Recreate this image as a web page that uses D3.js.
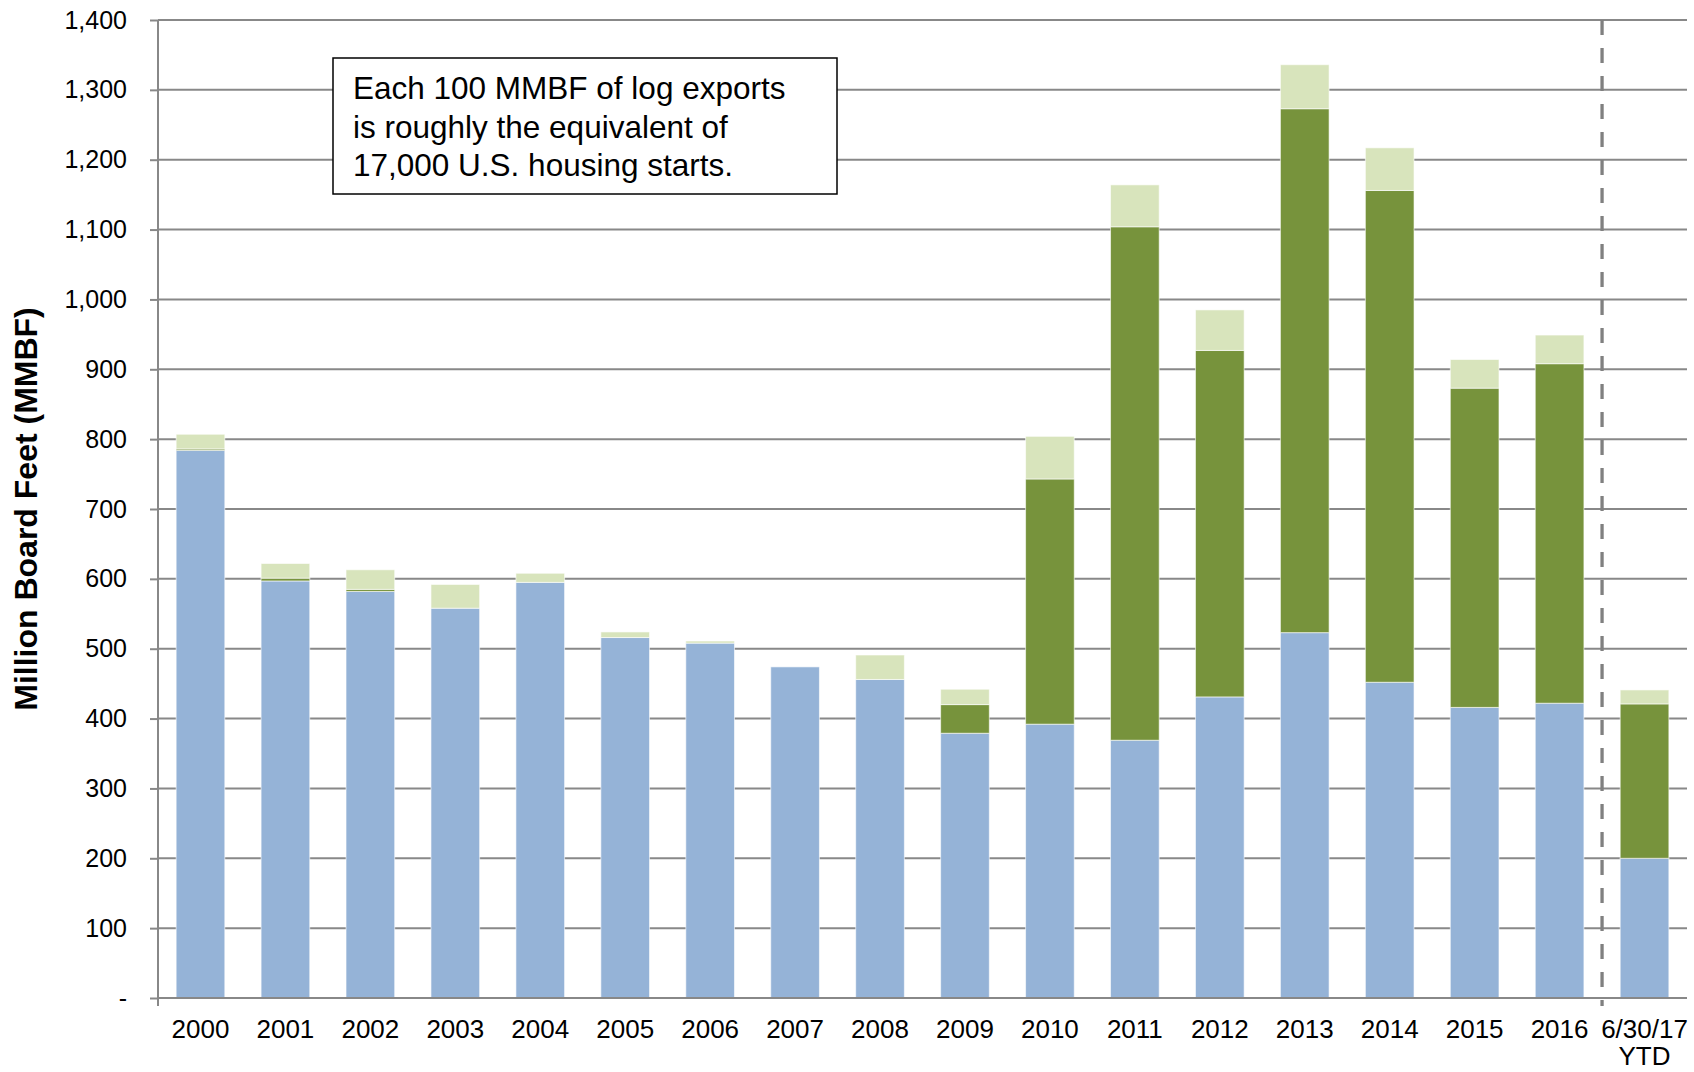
<!DOCTYPE html>
<html>
<head>
<meta charset="utf-8">
<script src="https://cdn.jsdelivr.net/npm/d3@7"></script>
<style>
  html, body { margin: 0; padding: 0; background: #fff; }
  svg { display: block; font-family: "Liberation Sans", Arial, sans-serif; }
</style>
</head>
<body>
<svg id="chart" width="1694" height="1072"></svg>
<script>
// ---- data ----
const categories = ["2000","2001","2002","2003","2004","2005","2006","2007","2008","2009","2010","2011","2012","2013","2014","2015","2016","6/30/17 YTD"];
const seriesNames = ["Series A", "Series B", "Series C"];
const seriesA = [784, 597, 582, 558, 595, 516, 508, 474, 456, 379, 392, 369, 431, 523, 452, 416, 422, 200];
const seriesB = [2, 4, 3, 0, 0, 0, 0, 0, 0, 41, 351, 735, 496, 750, 704, 457, 486, 221];
const seriesC = [21, 21, 28, 34, 13, 8, 3, 0, 35, 22, 61, 60, 58, 63, 61, 41, 41, 20];
const yTicks = [0, 100, 200, 300, 400, 500, 600, 700, 800, 900, 1000, 1100, 1200, 1300, 1400];
const yTitle = "Million Board Feet (MMBF)";
const noteLines = ["Each 100 MMBF of log exports", "is roughly the equivalent of", "17,000 U.S. housing starts."];

// ---- layout ----
const colors = ["#95B3D7", "#77933C", "#D8E4BC"];
const svg = d3.select("#chart");
const plotL = 158, plotR = 1687, plotT = 20, plotB = 998;

const x = d3.scaleBand().domain(categories).range([plotL, plotR])
  .paddingInner(0.427).paddingOuter(0.2135);
const y = d3.scaleLinear().domain([0, 1400]).range([plotB, plotT]);

const rows = categories.map((c, i) => ({ cat: c, a: seriesA[i], b: seriesB[i], c: seriesC[i] }));
const stack = d3.stack().keys(["a", "b", "c"])(rows);

// gridlines
svg.append("g")
  .selectAll("line").data(yTicks.filter(d => d > 0)).join("line")
  .attr("x1", plotL).attr("x2", plotR)
  .attr("y1", d => y(d)).attr("y2", d => y(d))
  .attr("stroke", "#888").attr("stroke-width", 2);

// bars
svg.append("g").selectAll("g").data(stack).join("g")
  .attr("fill", (d, i) => colors[i])
  .selectAll("rect").data(d => d).join("rect")
  .attr("x", d => x(d.data.cat))
  .attr("width", x.bandwidth())
  .attr("y", d => y(d[1]))
  .attr("height", d => Math.max(0, y(d[0]) - y(d[1])))
  .attr("stroke", "rgba(255,255,255,0.6)")
  .attr("stroke-width", 1);

// y axis
const yAxis = d3.axisLeft(y).tickValues(yTicks)
  .tickFormat(d => d === 0 ? "-" : d3.format(",")(d))
  .tickSize(8).tickPadding(23);
const gy = svg.append("g").attr("transform", `translate(${plotL},0)`).call(yAxis);
gy.select(".domain").remove();
gy.selectAll(".tick line").attr("stroke", "#888").attr("stroke-width", 2);
gy.selectAll(".tick text").attr("font-size", 25).attr("fill", "#000")
  .attr("font-family", "Liberation Sans, Arial, sans-serif");
gy.append("line").attr("x1", 0).attr("x2", 0).attr("y1", plotT).attr("y2", plotB + 8)
  .attr("stroke", "#888").attr("stroke-width", 2);

// x axis
const xAxis = d3.axisBottom(x).tickSize(0).tickPadding(0);
const gx = svg.append("g").attr("transform", `translate(0,${plotB})`).call(xAxis);
gx.select(".domain").remove();
gx.append("line").attr("x1", plotL).attr("x2", plotR).attr("y1", 0).attr("y2", 0)
  .attr("stroke", "#888").attr("stroke-width", 2);
gx.selectAll(".tick text").each(function(d) {
  const t = d3.select(this);
  t.text(null).attr("font-size", 26).attr("fill", "#000")
    .attr("font-family", "Liberation Sans, Arial, sans-serif")
    .attr("dy", null).attr("y", 0);
  const parts = d.split(" ");
  parts.forEach((p, i) => {
    t.append("tspan").attr("x", 0).attr("y", 40 + i * 27).text(p);
  });
});

// dashed separator
const sepX = x(categories[categories.length - 1]) - (x.step() - x.bandwidth()) / 2;
svg.append("line").attr("x1", sepX).attr("x2", sepX).attr("y1", plotT).attr("y2", plotB + 8)
  .attr("stroke", "#808080").attr("stroke-width", 3.3).attr("stroke-dasharray", "15,13");

// y title
svg.append("text")
  .attr("transform", `translate(37,${(plotT + plotB) / 2}) rotate(-90)`)
  .attr("text-anchor", "middle")
  .attr("font-size", 32).attr("font-weight", "bold").attr("fill", "#000")
  .text(yTitle);

// note box
const note = svg.append("g");
note.append("rect").attr("x", 333).attr("y", 58).attr("width", 504).attr("height", 136)
  .attr("fill", "#fff").attr("stroke", "#000").attr("stroke-width", 1.5);
note.selectAll("text").data(noteLines).join("text")
  .attr("x", 353).attr("y", (d, i) => 99 + i * 38.5)
  .attr("font-size", 31.5).attr("fill", "#000")
  .text(d => d);
</script>
</body>
</html>
